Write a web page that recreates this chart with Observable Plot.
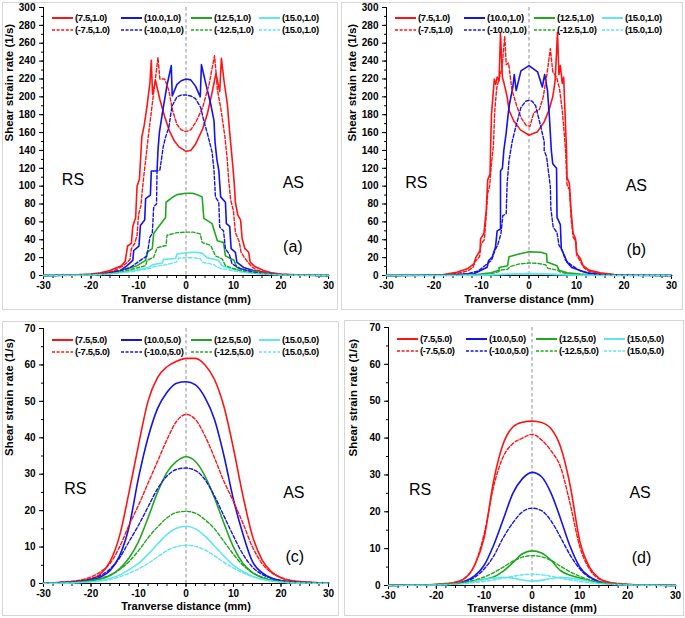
<!DOCTYPE html>
<html><head><meta charset="utf-8">
<script src="https://cdn.jsdelivr.net/npm/d3@7"></script>
<script src="https://cdn.jsdelivr.net/npm/@observablehq/plot@0.6"></script>
<style>
body{margin:0;background:#fff;}
#fig{position:relative;width:685px;height:618px;overflow:hidden;font-family:"Liberation Sans",Arial,sans-serif;background:#fff;}
.frame{position:absolute;border:1px solid #d6d6d6;box-sizing:border-box;}
.pl{position:absolute;}
.leg{position:absolute;display:flex;align-items:center;font-weight:bold;font-size:9.5px;letter-spacing:-0.4px;color:#000;white-space:nowrap;}
.leg svg{margin-right:2px;}
</style></head><body><div id="fig"></div>
<script>
// ---------- DATA ----------
const labels_1 = ["(7.5,1.0)","(10.0,1.0)","(12.5,1.0)","(15.0,1.0)","(-7.5,1.0)","(-10.0,1.0)","(-12.5,1.0)","(15.0,1.0)"];
const labels_5 = ["(7.5,5.0)","(10.0,5.0)","(12.5,5.0)","(15.0,5.0)","(-7.5,5.0)","(-10.0,5.0)","(-12.5,5.0)","(15.0,5.0)"];
const xTicks = [-30,-20,-10,0,10,20,30];
const yTicks_ab = [0,20,40,60,80,100,120,140,160,180,200,220,240,260,280,300];
const yTicks_cd = [0,10,20,30,40,50,60,70];

// panel (a): [x, rate] pairs
const a_p75 = [[-30,0],[-26,0.3],[-22,1],[-20,1.5],[-18,3],[-16,5.5],[-14.5,9],[-13.6,11],[-12.8,16],[-12.3,33],[-11.5,36],[-11.2,55],[-10.6,65],[-10.3,100],[-9.8,108],[-9.3,155],[-8.8,168],[-8.2,190],[-7.6,215],[-7.3,241],[-7.05,203],[-6.4,218],[-5.5,197],[-4.5,178],[-3.5,162],[-2.5,151],[-1.5,144],[0,139],[1,140],[2,147],[3.5,164],[4.5,181],[5.5,205],[6.3,226],[7.1,206],[7.45,243],[8.0,218],[8.7,192],[9.2,160],[9.9,120],[10.2,100],[10.4,82],[10.9,68],[11.5,62],[11.8,42],[12.4,30],[13.2,26],[13.5,15],[14.5,10],[16.3,5.6],[18,3],[20,1.5],[22,1],[26,0.3],[30,0]];
const a_p10 = [[-30,0],[-24,0.3],[-20,1],[-18,2],[-16,3.7],[-13.8,5.6],[-12.4,11],[-11.2,17],[-11.0,28],[-9.9,33],[-9.6,56],[-8.7,62],[-8.5,86],[-7.5,90],[-7.3,117],[-6.1,117],[-5.9,140],[-5.6,160],[-5.0,181],[-4.0,213],[-3.1,235],[-2.9,201],[-1.9,214],[-1,218],[0,220],[1,219],[2,212],[3.0,200],[3.25,236],[4.2,214],[5.2,192],[5.9,173],[6.1,150],[6.5,130],[6.9,118],[7.3,88],[8.3,82],[8.5,58],[9.2,55],[9.5,30],[10.4,26],[10.7,15],[12.1,9],[14.2,5.6],[17,3],[20,1],[24,0.3],[30,0]];
const a_p125 = [[-30,0],[-24,0.3],[-20,1],[-18,1.8],[-16,2.8],[-15.2,3.7],[-12.4,7.5],[-10.3,11],[-8.5,17],[-8.2,26],[-7.1,30],[-6.8,47],[-6.0,53],[-4.3,65],[-4.2,82],[-3,87],[-1.9,90.5],[0,92],[1.4,92],[2.5,90],[3.4,88],[3.75,64],[5.5,58],[6.6,39],[7.9,37],[8.3,22],[10.1,17],[10.7,9],[12.8,5.6],[15.6,3.7],[18.4,1.9],[20,1.2],[24,0.3],[30,0]];
const a_p15 = [[-30,0],[-24,0.2],[-20,0.6],[-17,1.5],[-13.8,3.4],[-11,5.6],[-7.8,9],[-7.1,12],[-5.0,14],[-4.7,18],[-2.2,19],[-1.9,24],[0,25.5],[2,26],[3.4,25],[4.4,20],[6.8,17],[7.6,11],[9.5,7.5],[12.5,4.5],[15,3],[18,1.5],[20,0.8],[24,0.2],[30,0]];
const a_m75 = [[-30,0],[-26,0.3],[-22,0.8],[-20,1.2],[-18,2.2],[-16,4],[-14.5,7],[-13.5,10],[-12.5,14],[-11.8,18],[-11.5,30],[-10.8,36],[-10.3,45],[-10.0,68],[-9.5,78],[-9.2,95],[-9.0,106],[-8.5,129],[-7.8,162],[-7.1,192],[-6.4,222],[-5.9,244],[-5.5,220],[-4.5,220],[-3.6,207],[-2.9,186],[-1.9,169],[-1,163],[0,161],[1,163],[2.1,172],[3.5,188],[4.9,215],[6.0,246],[6.3,229],[6.6,208],[7.3,188],[8.2,155],[8.7,129],[9.0,106],[9.4,85],[10.0,72],[10.4,48],[11.2,38],[11.6,26],[12.3,20],[13,15],[14,9],[15,6],[17,2.5],[20,1.2],[22,0.8],[26,0.3],[30,0]];
const a_m10 = [[-30,0],[-24,0.2],[-20,0.8],[-18,1.5],[-16,3],[-13.8,5.6],[-11.7,9],[-9.6,17],[-8.2,22],[-7.6,43],[-7.1,47],[-6.8,77],[-6.2,80],[-6.1,117],[-5.5,118],[-5.2,129],[-4.8,144],[-4.3,155],[-3.6,166],[-3.2,181],[-2.9,190],[-1.9,200],[-1,202],[0,202],[1,201],[2,198],[3.1,188],[3.8,172],[4.5,159],[5.5,138],[5.9,117],[6.2,88],[6.9,82],[7.1,54],[7.9,50],[8.3,30],[9.1,24],[9.7,13],[11.5,7.5],[14,4],[16,2.5],[18,1.5],[20,0.8],[24,0.2],[30,0]];
const a_m125 = [[-30,0],[-24,0.2],[-20,0.6],[-18,1.2],[-16,2],[-13.8,3.7],[-11,7.5],[-8.5,11],[-8.2,17],[-6.8,20.5],[-6.1,31],[-4.2,33.6],[-4.0,45],[-1.9,48],[0,48.5],[1.5,48.5],[3.0,46.6],[3.4,37],[5.2,33.6],[6.2,22],[7.6,18.6],[8.3,11],[10.1,7.5],[12.8,3.7],[15,2.2],[18,1.2],[20,0.6],[24,0.2],[30,0]];
const a_m15 = [[-30,0],[-24,0.2],[-20,0.5],[-17,1.2],[-13.8,3],[-11,4.5],[-7.5,8],[-6.8,10],[-4.3,12],[-2,15],[-1.5,19.5],[0,19.8],[1.5,19.8],[3,19],[3.4,15],[5.9,12],[6.9,8.5],[10.1,5],[12.8,3],[15,2],[18,1],[20,0.5],[24,0.2],[30,0]];

// panel (b): [x, rate] pairs
const b_p75 = [[-30,0],[-22,0.3],[-18,1],[-15.2,3.7],[-13,7.5],[-11.6,13],[-11.2,20],[-10.3,28],[-10.2,41],[-9.5,47],[-9.0,73],[-8.7,107],[-8.2,114],[-8.1,140],[-7.9,180],[-7.6,200],[-7.3,220],[-7.0,214],[-6.7,222],[-6.3,218],[-6.0,271],[-5.6,222],[-5.2,214],[-4.6,200],[-4.2,185],[-3.2,173],[-1.8,163],[0,157],[1.8,161],[3.2,172],[4.2,185],[5.0,200],[5.5,218],[6.0,272],[6.3,225],[6.6,235],[7.0,215],[7.3,222],[7.6,180],[7.9,140],[8.0,110],[8.5,103],[8.9,70],[9.3,47],[9.8,41],[10.0,25],[10.8,19],[11.4,11],[12.6,6],[15,3],[18,1],[22,0.3],[30,0]];
const b_p10 = [[-30,0],[-22,0.2],[-16,0.7],[-13,1.5],[-11.6,2],[-10.2,5.6],[-8.8,9.3],[-8.5,16.8],[-7.75,20.5],[-7.05,32],[-6.7,50],[-6.0,52],[-6.0,117],[-5.6,120],[-5.3,140],[-4.8,160],[-4.4,180],[-4.1,192],[-3.4,211],[-3.1,225],[-2.7,207],[-1.7,229],[0,235],[1.8,228],[2.8,211],[3.3,225],[3.9,207],[4.3,177],[4.7,140],[5.0,125],[5.8,120],[5.9,65],[6.6,57],[6.8,30],[7.6,20.5],[8.0,15],[9.0,9],[10.8,5.6],[12.2,3],[16,0.7],[22,0.2],[30,0]];
const b_p125 = [[-30,0],[-20,0.2],[-14,0.5],[-11,1],[-8,3],[-6.3,6],[-6.3,9],[-4.5,11],[-4.2,21],[-2.1,24],[0,26.5],[2.5,26],[3.7,24],[3.8,15],[5.9,11],[6.3,6],[8,3],[10.8,1.5],[14,0.5],[20,0.2],[30,0]];
const b_p15 = [[-30,0],[-15,0.1],[-10,0.4],[-6,1],[-3,1.5],[0,1.8],[3,1.5],[6,1],[10,0.4],[15,0.1],[30,0]];
const b_m75 = [[-30,0],[-22,0.3],[-18,0.8],[-15,2.5],[-13,5],[-11.8,9],[-11.3,16],[-10.4,21],[-10.1,35],[-9.4,40],[-9.1,60],[-8.7,92],[-8.3,100],[-7.9,125],[-7.5,145],[-7.2,185],[-6.8,210],[-6.2,222],[-5.7,232],[-5.1,268],[-4.8,236],[-4.3,238],[-3.6,208],[-2.6,190],[-1.6,176],[-0.6,168],[0.2,167],[1.0,182],[2.2,186],[3.0,200],[3.8,226],[4.5,254],[5.0,228],[5.8,222],[6.4,210],[7.0,185],[7.4,160],[7.7,140],[8.0,102],[8.5,96],[8.9,62],[9.3,43],[9.9,37],[10.1,22],[10.8,16],[11.5,9],[12.5,5],[15,2],[18,0.7],[22,0.3],[30,0]];
const b_m10 = [[-30,0],[-22,0.2],[-16,0.8],[-13,2],[-10.7,5],[-9.3,11],[-7.9,17],[-7.2,28],[-6.6,34],[-5.9,47],[-5.5,67],[-4.8,69],[-4.6,103],[-4.2,129],[-3.5,151],[-2.8,166],[-1.7,188],[-0.7,195],[0,196],[0.7,195],[1.4,190],[2.5,166],[3.2,150],[3.2,140],[3.7,133],[4.5,99],[4.6,75],[5.1,54],[5.9,48],[6.3,34],[7.0,28],[7.7,17],[9.1,11],[10.8,5],[13,2],[16,0.8],[22,0.2],[30,0]];
const b_m125 = [[-30,0],[-20,0.2],[-14,0.4],[-10,1],[-8,2],[-6.5,4],[-6,6],[-4.5,7],[-4,10],[-2,13],[0,14],[2,13.5],[3.5,12],[4,8],[6,6],[6.5,4],[8,2],[10,1],[14,0.4],[20,0.2],[30,0]];
const b_m15 = [[-30,0],[-15,0.1],[-10,0.5],[-6,1.3],[-3,2],[0,2.6],[3,2],[6,1.3],[10,0.5],[15,0.1],[30,0]];

// panels (c),(d): shared x grid
const xs_cd = [-30,-26,-22,-20,-18,-16,-14,-12,-10,-8,-6,-4,-2,0,2,4,6,8,10,12,14,16,18,20,22,26,30];
const c_p75  = [0.1,0.3,0.8,1.3,2.6,6,13,25,38,50,56.5,59.5,61,61.8,61.8,60,56,48.5,37,24,13,6.5,3.2,1.6,0.8,0.3,0.1];
const c_p10  = [0.1,0.2,0.5,0.9,1.8,3.5,7.5,15.5,29,40,48,52.5,55,55.4,54.5,51,45,35,23,13.5,6,3,1.5,0.8,0.4,0.2,0.1];
const c_p125 = [0.1,0.2,0.4,0.7,1.2,2.2,4,7,11.5,18,25,30.5,33.5,34.8,33.5,29.5,23.5,16.5,10,5.5,3,1.6,0.9,0.5,0.3,0.1,0.05];
const c_p15  = [0.05,0.1,0.3,0.5,0.8,1.4,2.3,3.8,5.5,8,10.8,13.5,15.2,15.7,15,13,10.3,7.5,5,3.3,2,1.2,0.7,0.4,0.2,0.1,0.05];
const c_m75  = [0.1,0.4,1,1.8,3.2,5.5,10,16,21.5,27.5,33.5,39.5,44.5,46.4,45,40.5,34.5,28,22.5,16.5,10,5.5,3,1.6,0.9,0.4,0.1];
const c_m10  = [0.1,0.3,0.7,1.2,2.2,4,7,11.5,16,21,26,29.5,31.3,31.7,31,28.5,24,18.5,13,8,4.5,2.5,1.4,0.8,0.5,0.2,0.1];
const c_m125 = [0.05,0.2,0.5,0.8,1.4,2.3,3.8,6,9,12.5,15.5,18,19.5,19.8,19.3,17.5,15,11.5,8,5,3,1.8,1,0.6,0.4,0.1,0.05];
const c_m15  = [0.05,0.1,0.3,0.4,0.7,1.1,1.8,2.8,4,5.5,7.3,9,10.1,10.5,10.2,9.2,7.6,5.8,4.2,2.9,1.9,1.2,0.7,0.4,0.2,0.1,0.05];
const d_p75  = [0.05,0.1,0.2,0.3,0.5,0.9,2,5.5,13,28.5,38.5,43,44.3,44.6,44.2,42.5,37.5,27,12,5,2,0.9,0.5,0.3,0.2,0.1,0.05];
const d_p10  = [0,0.05,0.1,0.15,0.25,0.5,1.2,2.6,5.5,11,18,25,29,30.7,29.5,25,18,10.5,5,2.4,1.1,0.5,0.25,0.15,0.1,0.05,0];
const d_p125 = [0,0.05,0.1,0.2,0.3,0.5,0.8,1.2,1.7,2.3,3.9,6.2,8.6,9.4,8.8,6.8,4,2.8,2,1.3,0.8,0.5,0.3,0.2,0.1,0.05,0];
const d_p15  = [0,0.05,0.1,0.15,0.3,0.5,0.8,1.2,1.6,2,2.2,2,1.5,1.2,1.4,1.9,2.2,2,1.6,1.2,0.8,0.5,0.3,0.15,0.1,0.05,0];
const d_m75  = [0.05,0.1,0.2,0.3,0.5,0.9,2,5.5,14,27,35,38.5,40,41,39.5,36.5,32,22,10.5,4.5,1.8,0.9,0.5,0.3,0.2,0.1,0.05];
const d_m10  = [0,0.05,0.1,0.15,0.25,0.5,1,2.2,4.5,8,13,17,20,21,20.3,17.5,13,8.2,4.5,2.2,1,0.5,0.25,0.15,0.1,0.05,0];
const d_m125 = [0,0.05,0.15,0.25,0.4,0.5,0.9,1.5,2.3,3.5,5,6.6,7.7,8.1,7.8,6.8,5.2,3.7,2.5,1.5,0.9,0.5,0.35,0.2,0.1,0.05,0];
const d_m15  = [0,0.05,0.1,0.15,0.2,0.35,0.5,0.8,1.1,1.5,2,2.5,2.9,3.1,2.9,2.5,2,1.5,1.1,0.8,0.5,0.35,0.2,0.15,0.1,0.05,0];

// ---------- STYLES ----------
const RED="#ff1414", BLUE="#1414e6", GREEN="#1fa81f", CYAN="#5fe6f0";
const styles = [
  {c:RED,d:null},{c:BLUE,d:null},{c:GREEN,d:null},{c:CYAN,d:null},
  {c:RED,d:"3.5,2"},{c:BLUE,d:"3.5,2"},{c:GREEN,d:"3.5,2"},{c:CYAN,d:"3.5,2"}
];
const FONT='"Liberation Sans", Arial, sans-serif';
const fig = document.getElementById("fig");

function pairs(arr){ return arr.map(([x,v]) => ({x, v})); }
function grid(vals){ return vals.map((v,i) => ({x: xs_cd[i], v})); }

function frame(l,t,w,h){
  const f=document.createElement("div"); f.className="frame";
  Object.assign(f.style,{left:l+"px",top:t+"px",width:w+"px",height:h+"px"});
  fig.appendChild(f);
}

function legend(labels, ox, oy){
  const cols=[0,69,139,207];
  labels.forEach((lab,i)=>{
    const st=styles[i];
    const d=document.createElement("div"); d.className="leg";
    d.style.left=(ox+cols[i%4])+"px";
    d.style.top=(oy+Math.floor(i/4)*12.2-6)+"px";
    d.style.height="12px";
    d.innerHTML=`<svg width="21" height="6"><line x1="0" y1="3" x2="21" y2="3" stroke="${st.c}" stroke-width="${st.d?1.6:2}" ${st.d?`stroke-dasharray="3,1.6"`:""}/></svg><span>${lab}</span>`;
    fig.appendChild(d);
  });
}

function panel(o){
  const marks=[
    Plot.ruleX([0],{stroke:"#8f8f8f",strokeDasharray:"3.5,2.5",strokeWidth:1}),
    Plot.axisX({ticks:d3.range(-30,31,2),tickSize:3,tickFormat:()=>"",label:null}),
    Plot.axisX({ticks:xTicks,tickSize:4,tickPadding:2,tickFormat:d=>String(d),label:null,fontWeight:"bold"}),
    Plot.axisY({ticks:d3.range(0,o.yMax+0.1,o.yMinor),tickSize:2,tickFormat:()=>"",label:null}),
    Plot.axisY({ticks:o.yTicks,tickSize:4,tickPadding:4,tickFormat:d=>String(d),label:null,fontWeight:"bold"}),
    Plot.ruleY([0],{stroke:"#000",strokeWidth:1}),
    Plot.ruleX([-30],{stroke:"#000",strokeWidth:1})
  ];
  o.series.forEach((data,i)=>{
    const st=styles[i];
    marks.push(Plot.line(data,{x:"x",y:"v",stroke:st.c,strokeWidth:st.d?1.4:1.6,strokeDasharray:st.d||undefined,curve:o.curve}));
  });
  const a=o.ann;
  marks.push(Plot.text(["RS"],{x:a[0][0],y:a[0][1],fontSize:16,fontWeight:"normal"}));
  marks.push(Plot.text(["AS"],{x:a[1][0],y:a[1][1],fontSize:16,fontWeight:"normal"}));
  marks.push(Plot.text([a[2][2]],{x:a[2][0],y:a[2][1],fontSize:16,fontWeight:"normal"}));
  marks.push(Plot.text(["Tranverse distance (mm)"],{frameAnchor:"bottom",dy:o.xtDy,fontSize:11,fontWeight:"bold"}));
  marks.push(Plot.text(["Shear strain rate (1/s)"],{frameAnchor:"left",dx:-o.ytDx,rotate:-90,fontSize:11.5,fontWeight:"bold"}));
  const svg=Plot.plot({
    width:o.w,height:o.h,
    marginLeft:o.ml,marginRight:o.mr,marginTop:o.mt,marginBottom:o.mb,
    x:{domain:[-30,30]},y:{domain:[0,o.yMax]},
    style:{fontFamily:FONT,fontSize:"10px",color:"#000",background:"transparent",overflow:"visible"},
    marks
  });
  svg.classList.add("pl");
  svg.style.left=o.left+"px"; svg.style.top=o.top+"px";
  fig.appendChild(svg);
}

// frames
frame(2,2,336,308);
frame(341,2,342,308);
frame(2,321,337,295);
frame(344,320,340,296);

const ser_a=[a_p75,a_p10,a_p125,a_p15,a_m75,a_m10,a_m125,a_m15].map(pairs);
const ser_b=[b_p75,b_p10,b_p125,b_p15,b_m75,b_m10,b_m125,b_m15].map(pairs);
const ser_c=[c_p75,c_p10,c_p125,c_p15,c_m75,c_m10,c_m125,c_m15].map(grid);
const ser_d=[d_p75,d_p10,d_p125,d_p15,d_m75,d_m10,d_m125,d_m15].map(grid);

panel({left:0,top:0,w:338,h:310,ml:43,mr:10,mt:7,mb:35,yMax:300,yTicks:yTicks_ab,yMinor:10,series:ser_a,curve:"linear",
  ann:[[-23.8,107],[22.6,104],[22.5,32.5,"(a)"]],xtDy:27,ytDx:34});
panel({left:340,top:0,w:345,h:310,ml:46,mr:14,mt:7,mb:35,yMax:300,yTicks:yTicks_ab,yMinor:10,series:ser_b,curve:"linear",
  ann:[[-23.7,104],[22.6,100],[22.6,29,"(b)"]],xtDy:27,ytDx:34});
panel({left:0,top:318,w:338,h:300,ml:43,mr:10,mt:10,mb:35,yMax:70,yTicks:yTicks_cd,yMinor:5,series:ser_c,curve:"monotone-x",
  ann:[[-23.3,25.9],[22.7,25],[22.9,7.2,"(c)"]],xtDy:26,ytDx:34});
panel({left:340,top:318,w:345,h:300,ml:48,mr:10,mt:9,mb:33,yMax:70,yTicks:yTicks_cd,yMinor:5,series:ser_d,curve:"monotone-x",
  ann:[[-23.4,26],[22.6,25],[22.9,7.6,"(d)"]],xtDy:26,ytDx:35});

legend(labels_1,52,17.7);
legend(labels_1,395,17.7);
legend(labels_5,52,339.5);
legend(labels_5,397,338.5);
</script></body></html>
